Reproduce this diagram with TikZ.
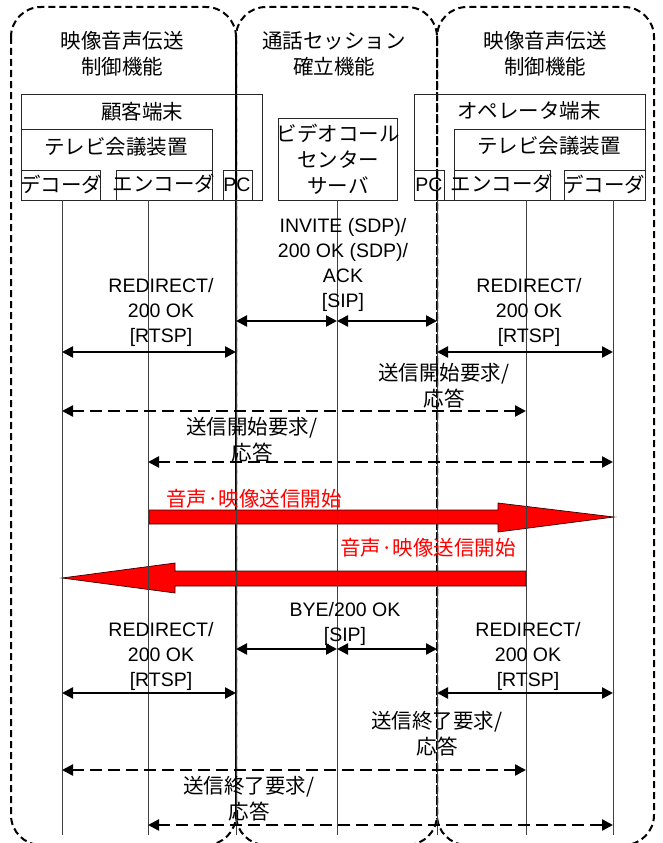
\documentclass[tikz,border=0pt]{standalone}
\usepackage{fontspec}
\setmainfont{Liberation Sans}
\newfontfamily\jp{Noto Sans CJK JP}
\usetikzlibrary{arrows.meta}
\begin{document}
\begin{tikzpicture}[x=1pt,y=-1pt,
  lat/.style={font=\fontsize{19.5}{25}\selectfont, align=center, inner sep=0pt},
  jpt/.style={font=\jp\fontsize{20.5}{26}\selectfont, align=center, inner sep=0pt},
  boxline/.style={draw=black!85, line width=0.9pt},
  life/.style={draw=black!75, line width=1pt},
  region/.style={draw=black, line width=2pt, dash pattern=on 7pt off 4pt, rounded corners=30pt},
  msg/.style={line width=2.4pt, {Triangle[length=11pt,width=11pt]}-{Triangle[length=11pt,width=11pt]}},
  dmsg/.style={msg, dash pattern=on 12pt off 6pt},
  bigarrow/.style={fill=red, draw=black!80!red, line width=0.7pt},
  redtxt/.style={jpt, text=red}
]
\useasboundingbox (0,0) rectangle (662,843);
\clip (0,0) rectangle (662,843);

% lifeline coordinates
\coordinate (decL) at (62,200);
\coordinate (encL) at (148,200);
\coordinate (pcL) at (236,200);
\coordinate (srv) at (337,200);
\coordinate (pcR) at (437,200);
\coordinate (encR) at (526,200);
\coordinate (decR) at (613,200);

% regions
\draw[region] (11,7) rectangle (236,845);
\draw[region] (236,7) rectangle (437,845);
\draw[region] (437,7) rectangle (654,845);

% boxes left
\draw[boxline] (21,94) rectangle (262,200);
\draw[boxline] (21,129) rectangle (212,200);
\draw[boxline] (21,170) rectangle (100,200);
\draw[boxline] (116,170) rectangle (212,200);
\draw[boxline] (223,170) rectangle (252,200);
% server
\draw[boxline] (278,118) rectangle (397,200);
% boxes right
\draw[boxline] (414,94) rectangle (645,200);
\draw[boxline] (454,129) rectangle (645,200);
\draw[boxline] (414,170) rectangle (444,200);
\draw[boxline] (454,170) rectangle (550,200);
\draw[boxline] (564,170) rectangle (645,200);

% red arrows
\draw[bigarrow] (149,510) -- (498,510) -- (498,503) -- (614,517) -- (498,532) -- (498,524) -- (149,524) -- cycle;
\draw[bigarrow] (526,571) -- (175,571) -- (175,563) -- (62,578) -- (175,593) -- (175,586) -- (526,586) -- cycle;

% lifelines
\foreach \n in {decL,encL,pcL,srv,pcR,encR,decR}
  \draw[life] (\n) -- (\n |- 0,835);

% messages
\draw[msg] (pcL |- 0,321) -- (srv |- 0,321);
\draw[msg] (srv |- 0,321) -- (pcR |- 0,321);
\draw[msg] (decL |- 0,352) -- (pcL |- 0,352);
\draw[msg] (pcR |- 0,352) -- (decR |- 0,352);
\draw[dmsg] (decL |- 0,411) -- (encR |- 0,411);
\draw[dmsg] (encL |- 0,462) -- (decR |- 0,462);
\draw[msg] (pcL |- 0,649) -- (srv |- 0,649);
\draw[msg] (srv |- 0,649) -- (pcR |- 0,649);
\draw[msg] (decL |- 0,693) -- (pcL |- 0,693);
\draw[msg] (pcR |- 0,693) -- (decR |- 0,693);
\draw[dmsg] (decL |- 0,770) -- (encR |- 0,770);
\draw[dmsg] (encL |- 0,825) -- (decR |- 0,825);

% headings
\node[jpt] (h1) at (122,53.5) {映像音声伝送\\制御機能};
\node[jpt] (h2) at (334,53.5) {通話セッション\\確立機能};
\node[jpt] (h3) at (545,53.5) {映像音声伝送\\制御機能};

% box texts
\node[jpt] (tcust) at (142,112) {顧客端末};
\node[jpt] (ttvL) at (116,147) {テレビ会議装置};
\node[jpt] (tdecL) at (61,184) {デコーダ};
\node[jpt] (tencL) at (164,184) {エンコーダ};
\node[lat] (tpcL) at (237,185) {PC};
\node[jpt] (tsrv) at (338,159) {ビデオコール\\センター\\サーバ};
\node[jpt] (top) at (529,111) {オペレータ端末};
\node[jpt] (ttvR) at (549,146) {テレビ会議装置};
\node[lat] (tpcR) at (429,185) {PC};
\node[jpt] (tencR) at (502,184) {エンコーダ};
\node[jpt] (tdecR) at (604,184) {デコーダ};

% message labels
\node[lat] (lsip1) at (343,265) {INVITE (SDP)/\\200 OK (SDP)/\\ACK\\{[SIP]}};
\node[lat] (lrtspL1) at (161,312) {REDIRECT/\\200 OK\\{[RTSP]}};
\node[lat] (lrtspR1) at (529,312) {REDIRECT/\\200 OK\\{[RTSP]}};
\node[jpt] (lstart1) at (444,386) {送信開始要求/\\応答};
\node[jpt] (lstart2) at (252,440) {送信開始要求/\\応答};
\node[redtxt, anchor=west] (lred1) at (166,499) {音声·映像送信開始};
\node[redtxt, anchor=west] (lred2) at (340,548) {音声·映像送信開始};
\node[lat] (lbye) at (345,623.5) {BYE/200 OK\\{[SIP]}};
\node[lat] (lrtspL2) at (161,656) {REDIRECT/\\200 OK\\{[RTSP]}};
\node[lat] (lrtspR2) at (528,656) {REDIRECT/\\200 OK\\{[RTSP]}};
\node[jpt] (lend1) at (437,734) {送信終了要求/\\応答};
\node[jpt] (lend2) at (249,799) {送信終了要求/\\応答};
\end{tikzpicture}
\end{document}
